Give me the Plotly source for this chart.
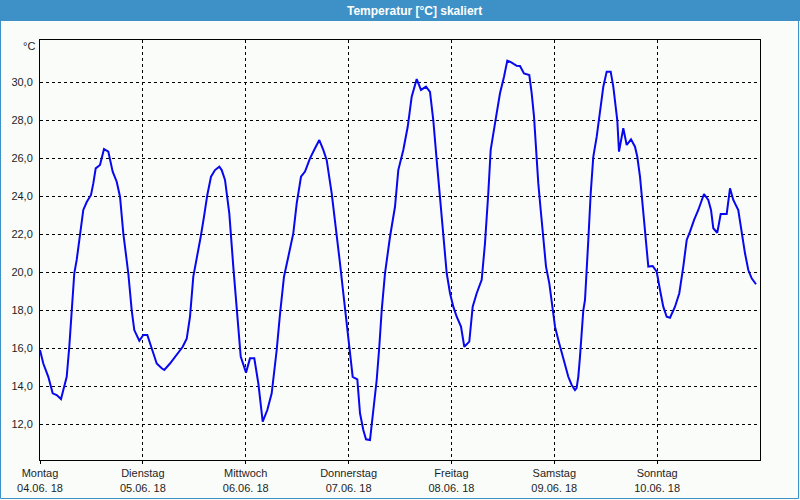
import pandas as pd
import plotly.graph_objects as go

# hours since Monday 04.06.18 00:00
hours = [0.0, 0.77, 1.94, 2.96, 3.9, 4.9, 5.44, 6.23, 6.84, 7.4,
         8.0, 8.56, 9.17, 9.57, 10.1, 10.9, 11.9, 12.44, 13.0, 14.0,
         14.4, 14.93, 15.94, 16.96, 17.9, 18.67, 19.44, 20.6, 21.4, 22.0,
         23.17, 24.1, 25.04, 26.06, 27.23, 28.4, 29.0, 30.33, 31.9, 33.3,
         34.23, 35.0, 35.77, 36.56, 37.5, 38.27, 39.04, 39.9, 40.83, 41.84,
         42.4, 43.17, 44.17, 45.1, 45.9, 46.83, 48.07, 49.0, 50.0, 50.94,
         51.96, 53.04, 54.06, 55.23, 56.0, 56.93, 57.94, 59.1, 59.9, 60.9,
         61.83, 63.0, 64.17, 65.17, 66.1, 66.9, 68.06, 69.07, 70.0, 70.77,
         71.56, 72.33, 72.96, 74.04, 74.67, 75.44, 76.07, 77.0, 77.77, 78.56,
         79.17, 79.73, 80.5, 81.67, 82.83, 83.6, 84.77, 85.8, 86.73, 87.9,
         88.9, 90.07, 91.0, 91.77, 92.56, 93.33, 94.1, 94.9, 95.67, 96.44,
         97.23, 98.23, 99.0, 100.17, 100.96, 101.9, 103.06, 103.83, 104.6, 105.16,
         106.17, 107.33, 108.27, 109.04, 110.06, 111.23, 112.0, 112.93, 114.17, 114.73,
         115.27, 115.73, 116.27, 116.83, 117.44, 118.07, 118.84, 119.4, 119.77, 120.17,
         120.94, 121.73, 122.5, 123.27, 124.06, 124.83, 125.2, 125.6, 126.0, 126.39,
         126.77, 127.17, 127.4, 127.94, 128.5, 129.1, 129.9, 130.67, 131.44, 132.23,
         133.16, 133.77, 134.4, 134.7, 135.1, 135.57, 136.1, 136.9, 137.9, 138.83,
         139.37, 140.0, 140.63, 141.17, 141.94, 142.96, 143.9, 144.67, 145.43, 146.23,
         147.0, 148.17, 149.17, 150.1, 150.9, 151.67, 152.6, 153.6, 154.93, 155.93,
         156.57, 157.1, 158.03, 158.83, 160.23, 161.0, 161.77, 162.93, 163.73, 164.5,
         165.27, 166.06, 167.07]

temperature = [15.91, 15.2, 14.5, 13.63, 13.54, 13.33, 13.8, 14.5, 16.1, 18.0,
               19.95, 20.65, 21.7, 22.4, 23.28, 23.7, 24.07, 24.68, 25.47, 25.65,
               26.0, 26.49, 26.35, 25.3, 24.77, 23.98, 22.05, 19.95, 18.0, 16.96,
               16.4, 16.7, 16.7, 16.0, 15.2, 14.95, 14.86, 15.2, 15.65, 16.08,
               16.5, 17.66, 19.77, 20.65, 21.87, 22.93, 24.07, 25.03, 25.38, 25.56,
               25.38, 24.86, 23.1, 20.3, 18.19, 15.56, 14.72, 15.47, 15.47, 14.16,
               12.14, 12.75, 13.63, 15.91, 17.8, 19.77, 20.82, 22.05, 23.63, 25.03,
               25.3, 26.0, 26.53, 26.96, 26.44, 25.9, 24.16, 22.4, 20.47, 18.9,
               17.3, 15.91, 14.5, 14.37, 12.58, 11.7, 11.21, 11.17, 12.75, 14.33,
               16.08, 18.0, 19.95, 21.87, 23.45, 25.38, 26.44, 27.66, 29.24, 30.17,
               29.6, 29.77, 29.5, 28.0, 25.9, 23.98, 22.05, 19.95, 18.9, 18.19,
               17.66, 17.14, 16.08, 16.35, 18.19, 18.9, 19.6, 21.53, 24.16, 26.44,
               27.84, 29.42, 30.29, 31.14, 31.03, 30.87, 30.86, 30.47, 30.38, 29.42,
               28.19, 26.44, 24.68, 23.28, 21.87, 20.3, 19.42, 18.55, 17.84, 17.14,
               16.44, 15.74, 15.12, 14.5, 14.07, 13.8, 13.9, 14.5, 15.56, 16.79,
               18.0, 18.55, 19.77, 21.7, 24.16, 26.08, 27.14, 28.54, 29.77, 30.56,
               30.56, 29.77, 28.72, 28.0, 26.35, 26.87, 27.58, 26.7, 27.0, 26.61,
               26.08, 25.03, 23.45, 21.87, 20.3, 20.33, 20.03, 19.07, 18.19, 17.66,
               17.61, 18.19, 18.9, 20.3, 21.7, 22.14, 22.75, 23.28, 24.12, 23.81,
               23.28, 22.32, 22.08, 23.07, 23.07, 24.42, 23.81, 23.28, 22.05, 21.0,
               20.12, 19.68, 19.37]

day_dates = ["2018-06-04", "2018-06-05", "2018-06-06", "2018-06-07",
             "2018-06-08", "2018-06-09", "2018-06-10"]
day_names = ["Montag", "Dienstag", "Mittwoch", "Donnerstag",
             "Freitag", "Samstag", "Sonntag"]
day_labels = ["04.06. 18", "05.06. 18", "06.06. 18", "07.06. 18",
              "08.06. 18", "09.06. 18", "10.06. 18"]
y_ticks = [12, 14, 16, 18, 20, 22, 24, 26, 28, 30]

start = pd.Timestamp("2018-06-04 00:00")
times = [start + pd.Timedelta(hours=h) for h in hours]

BG = "#fafcfa"
BAR = "#3d91c6"
TXT = "#1e1e1e"
FONT = "Liberation Sans, Arial, sans-serif"

fig = go.Figure()
fig.add_trace(go.Scatter(x=times, y=temperature, mode="lines",
                         line=dict(color="#0808ee", width=2),
                         hoverinfo="skip", showlegend=False))

# geometry helpers (plot area 40..760 x 40..460 px)
def px(x):
    return (x - 40) / 720.0

def py(y):
    return (460 - y) / 420.0

fig.update_layout(
    width=800, height=500, autosize=False,
    margin=dict(l=40, r=40, t=40, b=40, pad=0),
    paper_bgcolor=BG, plot_bgcolor=BG,
    separators=",.",
    font=dict(family=FONT, size=11, color=TXT),
    showlegend=False,
    xaxis=dict(
        type="date",
        automargin=False,
        range=["2018-06-04 00:00", "2018-06-11 00:00"],
        tickvals=day_dates,
        ticktext=[f"{n}<br>{d}" for n, d in zip(day_names, day_labels)],
        tickangle=0,
        showgrid=True, gridcolor="#000000", gridwidth=1, griddash="3px,3px",
        showline=True, linecolor="#000000", linewidth=1, mirror=True,
        ticks="outside", ticklen=3, tickcolor="#000000",
        zeroline=False,
        tickfont=dict(family=FONT, size=11, color=TXT),
    ),
    yaxis=dict(
        automargin=False,
        range=[10.121, 32.226],
        tickvals=y_ticks,
        tickformat=".1f",
        showgrid=True, gridcolor="#000000", gridwidth=1, griddash="3px,3px",
        showline=True, linecolor="#000000", linewidth=1, mirror=True,
        ticks="", zeroline=False,
        ticklabelstandoff=4,
        tickfont=dict(family=FONT, size=11, color=TXT),
    ),
    shapes=[
        dict(type="rect", xref="paper", yref="paper",
             x0=px(0), x1=px(800), y0=py(21), y1=py(0),
             fillcolor=BAR, line=dict(width=0), layer="above"),
        dict(type="rect", xref="paper", yref="paper",
             x0=px(0.5), x1=px(798.5), y0=py(498.5), y1=py(0),
             fillcolor="rgba(0,0,0,0)", line=dict(color=BAR, width=1), layer="above"),
    ],
    annotations=[
        dict(text="<b>Temperatur [°C] skaliert</b>", xref="paper", yref="paper",
             x=px(414), y=py(10.5), xanchor="center", yanchor="middle",
             showarrow=False, font=dict(family=FONT, size=12, color="#ffffff")),
        dict(text="°C", xref="paper", yref="paper",
             x=px(37), y=py(46), xanchor="right", yanchor="middle",
             showarrow=False, font=dict(family=FONT, size=11, color=TXT)),
    ],
)

fig.write_html("out.html",
               config={"displayModeBar": False},
               post_script="document.body.style.margin='0';document.body.style.overflow='hidden';")
